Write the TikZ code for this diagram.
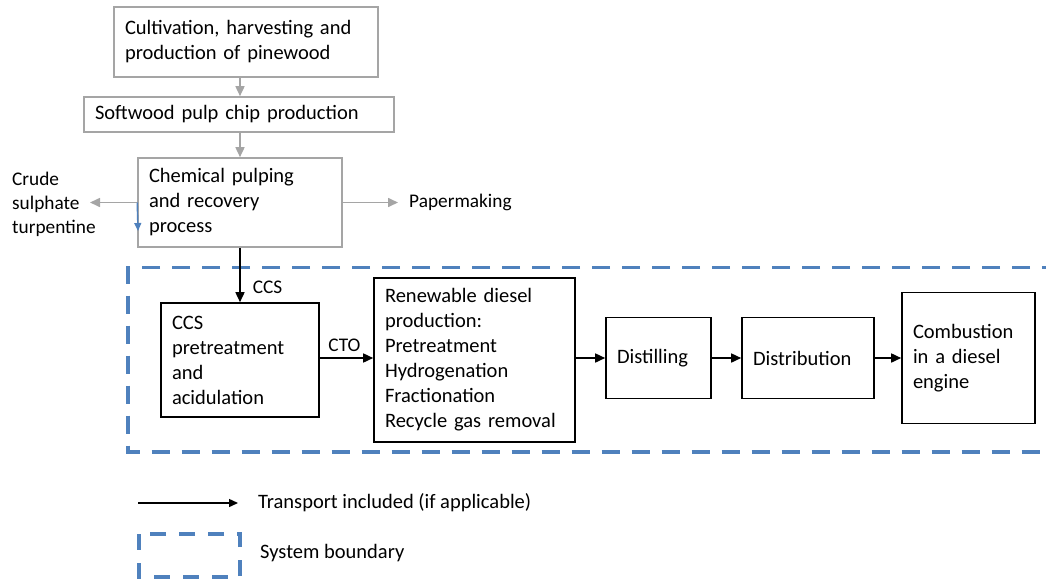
\documentclass[tikz,border=0pt]{standalone}
\usepackage{fontspec}
\setmainfont{Carlito}
\usetikzlibrary{arrows.meta}
\definecolor{boxgray}{RGB}{165,165,165}
\definecolor{bndblue}{RGB}{79,129,189}
\begin{document}
\begin{tikzpicture}[x=1pt,y=-1pt,
  every node/.style={font=\fontsize{20.5}{25}\selectfont, inner sep=0pt},
  stage/.style={draw, line width=1.6pt, align=left, inner xsep=11pt},
  graybox/.style={stage, draw=boxgray},
  blackbox/.style={stage, draw=black},
  grayarrow/.style={draw=boxgray, line width=1.6pt, -{Triangle[length=10pt,width=9pt]}},
  blackarrow/.style={draw=black, line width=1.6pt, -{Triangle[length=10pt,width=9pt]}},
  lbl/.style={font=\fontsize{19.3}{24}\selectfont, align=left},
  boundary/.style={draw=bndblue, line width=3.6pt, dash pattern=on 18pt off 12pt}
]
\useasboundingbox (0,0) rectangle (1046,581);
\clip (0,0) rectangle (1046,581);

% upstream (gray) boxes
\node[graybox, minimum width=264pt, minimum height=70pt, text width=242pt] (cult) at (246,42)
  {Cultivation, harvesting and\\production of pinewood};
\node[graybox, minimum width=310pt, minimum height=35pt, text width=288pt] (chip) at (239,114.5)
  {Softwood pulp chip production};
\node[graybox, minimum width=204pt, minimum height=89pt, text width=182pt] (pulp) at (240,202.5)
  {Chemical pulping\\and recovery\\process};

% side products
\node[lbl, anchor=west] (cst) at (12,204) {Crude\\sulphate\\turpentine};
\coordinate (cstend) at (90,202.5);
\node[lbl, anchor=west] (paper) at (409,202.5) {Papermaking};
\coordinate (paperend) at (398,202.5);
\coordinate (bluetip) at (138,231);

\draw[grayarrow] (pulp.north |- cult.south) -- (pulp.north |- chip.north);
\draw[grayarrow] (pulp.north |- chip.south) -- (pulp.north);
\draw[grayarrow] (pulp.west) -- (cstend);
\draw[grayarrow] (pulp.east) -- (paperend);
\draw[draw=bndblue, line width=1.4pt, -{Triangle[length=8pt,width=7pt]}] (pulp.west) -- (bluetip);

% system boundary
\coordinate (b1) at (1060,267.5);
\coordinate (b2) at (128,267.5);
\coordinate (b3) at (128,452);
\coordinate (b4) at (1060,452);
\draw[boundary] (b1) -- (b2) -- (b3) -- (b4);

% main chain
\node[blackbox, minimum width=158pt, minimum height=114pt, text width=136pt] (ccs) at (240,360)
  {CCS\\pretreatment\\and\\acidulation};
\node[blackbox, minimum width=201pt, minimum height=164pt, text width=179pt] (rd) at (474.5,360)
  {Renewable diesel\\production:\\Pretreatment\\Hydrogenation\\Fractionation\\Recycle gas removal};
\node[blackbox, minimum width=105pt, minimum height=81pt, text width=83pt] (dist) at (658.5,358)
  {Distilling};
\node[blackbox, minimum width=132pt, minimum height=81pt, text width=110pt] (distr) at (808,358)
  {Distribution};
\node[blackbox, minimum width=133pt, minimum height=131pt, text width=111pt] (comb) at (968.5,358)
  {Combustion\\in a diesel\\engine};

\draw[blackarrow] (pulp.south) -- node[lbl, anchor=west, pos=0.72, xshift=12pt] (ccslbl) {CCS} (ccs.north);
\draw[blackarrow] (ccs.east |- 0,358) -- node[lbl, anchor=south, yshift=6pt, xshift=-2pt] (ctolbl) {CTO} (rd.west |- 0,358);
\draw[blackarrow] (rd.east |- dist.west) -- (dist.west);
\draw[blackarrow] (dist.east) -- (distr.west);
\draw[blackarrow] (distr.east) -- (comb.west);

% legend
\coordinate (la1) at (138,503);
\coordinate (la2) at (238,503);
\draw[draw=black, line width=1.4pt, -{Triangle[length=9pt,width=8pt]}] (la1) -- (la2);
\node[anchor=west] (ltxt1) at (258,503) {Transport included (if applicable)};
\coordinate (lb1) at (139,534);
\coordinate (lb2) at (240,577);
\draw[draw=bndblue, line width=3.6pt, dash pattern=on 16pt off 13pt] (lb1) rectangle (lb2);
\node[anchor=west] (ltxt2) at (260,553) {System boundary};
\end{tikzpicture}
\end{document}
